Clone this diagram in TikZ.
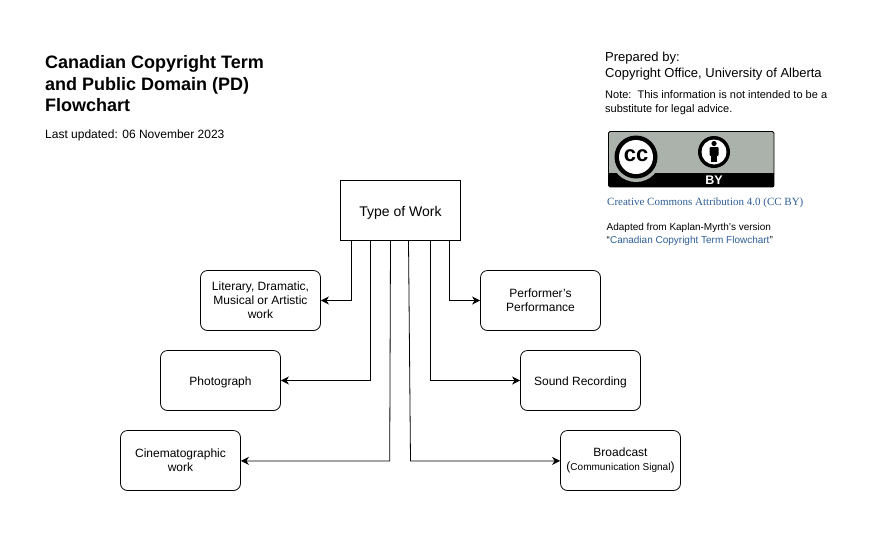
\documentclass[tikz,border=0pt]{standalone}
\usepackage{fontspec}
\usetikzlibrary{arrows.meta}
\setmainfont{Liberation Sans}
\newfontfamily\serifface{Liberation Serif}
\definecolor{Ink}{HTML}{000000}
\definecolor{LinkBlue}{HTML}{2F5F96}
\definecolor{BadgeGrey}{HTML}{AAB2AB}
\begin{document}
\begin{tikzpicture}[x=1pt,y=-1pt,every node/.style={text=Ink,inner sep=0pt},
  workbox/.style={draw=Ink,line width=0.8pt,rounded corners=7pt,minimum width=120pt,minimum height=60pt,align=center,font=\fontsize{12}{14}\selectfont,execute at begin node={\rule{0pt}{12pt}}},
  topbox/.style={draw=Ink,line width=0.8pt,minimum width=120pt,minimum height=60pt,align=center,font=\fontsize{14}{16}\selectfont,execute at begin node={\rule{0pt}{14pt}}},
  link/.style={-{Stealth[length=8pt,width=8pt,inset=2.5pt]},line width=0.8pt,draw=Ink},
  txt/.style={anchor=north west,align=left}]
\useasboundingbox (0,0) rectangle (880,557);
\fill[white] (0,0) rectangle (880,557);
% heading and notes
\node[txt,font=\fontsize{18}{21.5}\selectfont\bfseries] (title) at (45,55.5) {Canadian Copyright Term\\and Public Domain (PD)\\Flowchart};
\node[txt,font=\fontsize{12}{14}\selectfont] (updated) at (45,130) {Last updated: 06 November 2023};
\node[txt,font=\fontsize{13}{15.5}\selectfont] (prepared) at (605,52) {Prepared by:\\Copyright Office, University of Alberta};
\node[txt,font=\fontsize{11}{14}\selectfont] (note) at (605,90) {Note:\ \ This information is not intended to be a\\substitute for legal advice.};
% badge
\fill[BadgeGrey,rounded corners=1.5pt] (608.5,131.5) rectangle (774,187);
\draw[black,line width=0.8pt,rounded corners=1.5pt] (608.5,131.5) rectangle (774,187);
\fill[black] (608.5,173) rectangle (774,187);
\fill[BadgeGrey] (636,157) circle (25);
\fill[black] (636,157) circle (21.5);
\fill[white] (636,157) circle (17);
\node[font=\fontsize{22}{22}\selectfont\bfseries] (cc) at (636,156) {cc};
\fill[black] (714,152) circle (16);
\fill[white] (714,152) circle (12.5);
\fill[black] (714,143.5) circle (2.6);
\fill[black,rounded corners=1pt] (709.5,147) rectangle (718.5,156);
\fill[black] (711.2,150) rectangle (716.8,162);
\node[font=\fontsize{12.5}{13}\selectfont\bfseries,text=white] (by) at (714,180.5) {BY};
\node[txt,font=\fontsize{11}{13}\selectfont\serifface,text=LinkBlue] (licence) at (607,198) {Creative Commons Attribution 4.0 (CC BY)};
\node[txt,font=\fontsize{10}{13}\selectfont] (adapted) at (606.5,223.5) {Adapted from Kaplan-Myrth's version\\\textcolor{Ink}{``}\textcolor{LinkBlue}{Canadian Copyright Term Flowchart}\textcolor{Ink}{''}};
% boxes
\node[topbox] (type) at (400.5,210.5) {Type of Work};
\node[workbox] (literary) at (260.5,300.5) {Literary, Dramatic,\\Musical or Artistic\\work};
\node[workbox] (photo) at (220.5,380.5) {Photograph};
\node[workbox] (cinema) at (180.5,460.5) {Cinematographic\\work};
\node[workbox] (performer) at (540.5,300.5) {Performer's\\Performance};
\node[workbox] (sound) at (580.5,380.5) {Sound Recording};
\node[workbox] (broadcast) at (620.5,460.5) {Broadcast\\({\fontsize{10}{14}\selectfont Communication Signal})};
% connectors
\draw[link] ([xshift=-49pt]type.south) |- (literary.east);
\draw[link] ([xshift=-30pt]type.south) |- (photo.east);
\draw[link] ([xshift=-10pt]type.south) -- ++(-0.8,220) coordinate (cinematurn) -- (cinematurn -| cinema.east);
\draw[link] ([xshift=8pt]type.south) -- ++(2,220) coordinate (broadturn) -- (broadturn -| broadcast.west);
\draw[link] ([xshift=30pt]type.south) |- (sound.west);
\draw[link] ([xshift=49pt]type.south) |- (performer.west);
\end{tikzpicture}
\end{document}
